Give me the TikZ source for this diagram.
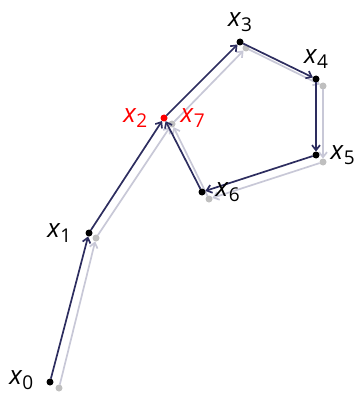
\documentclass[tikz,border=0pt]{standalone}
\usepackage{fontspec}
\setsansfont{Open Sans}
\usetikzlibrary{arrows.meta, positioning}
\definecolor{navy}{RGB}{45,45,95}
\definecolor{pale}{RGB}{200,200,215}
\tikzstyle{dot}    = [circle, fill=black, minimum size=7pt, inner sep=0pt, outer sep=0pt]
\tikzstyle{gdot}   = [circle, fill=black!25, minimum size=7pt, inner sep=0pt, outer sep=0pt]
\tikzstyle{lbl}    = [font=\sffamily\fontsize{26}{27}\selectfont, inner sep=1pt]
\tikzstyle{darkarrow} = [line width=1.7pt, navy, -{Straight Barb[length=5pt,width=8pt]}]
\tikzstyle{palearrow} = [line width=1.7pt, pale, -{Straight Barb[length=5pt,width=8pt]}]
\newcommand{\xs}[1]{\textit{x}\raisebox{-0.18em}{\fontsize{19}{19}\selectfont #1}}

\begin{document}
\begin{tikzpicture}[x=1pt, y=-1pt]
\useasboundingbox (0,0) rectangle (357,393);

% posunuté body
\node[gdot] (g0) at (59,388) {};
\node[gdot] (g1) at (96,238) {};
\node[gdot] (g2) at (172,124) {};
\node[gdot] (g3) at (246,48) {};
\node[gdot] (g4) at (323,86) {};
\node[gdot] (g5) at (323,162) {};
\node[gdot] (g6) at (209,199) {};

% světlá cesta
\draw[palearrow] (g0) -- (g1);
\draw[palearrow] (g1) -- (g2);
\draw[palearrow] (g2) -- (g3);
\draw[palearrow] (g3) -- (g4);
\draw[palearrow] (g4) -- (g5);
\draw[palearrow] (g5) -- (g6);
\draw[palearrow] (g6) -- (g2);

% body
\node[dot] (p0) at (50,382) {};
\node[dot] (p1) at (89,233) {};
\node[dot,fill=red] (p2) at (164,118) {};
\node[dot] (p3) at (240,42) {};
\node[dot] (p4) at (316,79) {};
\node[dot] (p5) at (316,155) {};
\node[dot] (p6) at (202,192) {};

% tmavá cesta
\draw[darkarrow] (p0) -- (p1);
\draw[darkarrow] (p1) -- (p2);
\draw[darkarrow] (p2) -- (p3);
\draw[darkarrow] (p3) -- (p4);
\draw[darkarrow] (p4) -- (p5);
\draw[darkarrow] (p5) -- (p6);
\draw[darkarrow] (p6) -- (p2);

% popisky
\node[lbl, left=12pt of p0, yshift=2pt] (l0) {\xs{0}};
\node[lbl, left=13pt of p1] (l1) {\xs{1}};
\node[lbl, red, left=12pt of p2] (l2) {\xs{2}};
\node[lbl, red, right=12pt of p2] (l7) {\xs{7}};
\node[lbl, above=6pt of p3] (l3) {\xs{3}};
\node[lbl, above=6pt of p4] (l4) {\xs{4}};
\node[lbl, right=10pt of p5] (l5) {\xs{5}};
\node[lbl, right=9pt of p6] (l6) {\xs{6}};

\end{tikzpicture}
\end{document}
